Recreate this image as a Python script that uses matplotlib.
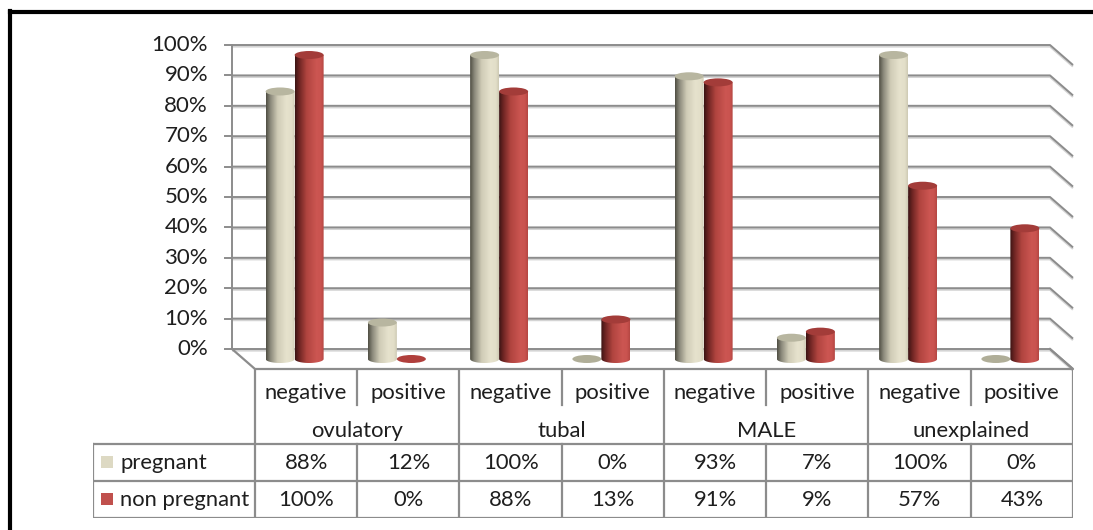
import numpy as np
import matplotlib
matplotlib.use("Agg")
import matplotlib.pyplot as plt
from matplotlib.path import Path
from matplotlib.patches import PathPatch, Ellipse, Rectangle
from matplotlib.colors import LinearSegmentedColormap
from matplotlib.lines import Line2D

# ---- data ----
groups = ["ovulatory", "tubal", "MALE", "unexplained"]
subgroups = ["negative", "positive"]
series_names = ["pregnant", "non pregnant"]
pregnant = [88, 12, 100, 0, 93, 7, 100, 0]
non_pregnant = [100, 0, 88, 13, 91, 9, 57, 43]
yticks = [0, 10, 20, 30, 40, 50, 60, 70, 80, 90, 100]

FONT = "Lato"
TXT = "#1e1e1e"
GRID = "#8c8c8c"

W, H, DPI = 1093, 530, 100
fig = plt.figure(figsize=(W / DPI, H / DPI), dpi=DPI)
fig.patch.set_facecolor("white")

# main plot area (category units on x, fraction on y)
col_px = 102.25            # pixels per category
unit_px = 304.0            # pixels per 100 %
left_px, right_px = 100, 1093
top_px, bot_px = 30, 375
x_origin_px, y_origin_px = 232, 349   # back wall left edge / 0 %

ax = fig.add_axes([left_px / W, 1 - bot_px / H, (right_px - left_px) / W, (bot_px - top_px) / H])
ax.set_axis_off()
xlim = ((left_px - x_origin_px) / col_px - 0.5, (right_px - x_origin_px) / col_px - 0.5)
ylim = ((y_origin_px - bot_px) / unit_px, (y_origin_px - top_px) / unit_px)

n = len(pregnant)
dx = 23 / col_px      # depth offset (front minus back)
dy = -20 / unit_px
x_back0, x_back1 = -0.5, n - 0.5

# back wall gridlines with the perspective side wall on the right
for t in yticks:
    v = t / 100
    xs = [x_back0, x_back1, x_back1 + dx]
    ys = [v, v, v + dy]
    ax.plot(xs, [y - 1.5 / unit_px for y in ys], color="#d4d4d4", lw=1.6, zorder=1,
            solid_capstyle="butt")
    ax.plot(xs, ys, color=GRID, lw=1.4, zorder=2, solid_capstyle="butt")
    # tick
    ax.plot([x_back0 - 7 / col_px, x_back0], [v, v], color=GRID, lw=1.4, zorder=2)
    ax.annotate(f"{t}%", xy=(x_back0, v), xytext=(-24, 0), textcoords="offset pixels",
                ha="right", va="center", fontsize=16, family=FONT, color=TXT)

# vertical axis line
ax.plot([x_back0, x_back0], [0, 1], color=GRID, lw=1.4, zorder=2)
# floor: left diagonal and front edge
ax.plot([x_back0, x_back0 + dx, x_back1 + dx, x_back1],
        [0, dy, dy, 0], color=GRID, lw=1.6, zorder=2)

# cylinder shading
beige_cmap = LinearSegmentedColormap.from_list(
    "beige", [(0.0, "#4e4d42"), (0.15, "#8a887a"), (0.4, "#cfcbb6"),
              (0.7, "#e6e2cd"), (0.9, "#e2dec8"), (1.0, "#cdc9b3")])
red_cmap = LinearSegmentedColormap.from_list(
    "red", [(0.0, "#3a1313"), (0.15, "#6e2523"), (0.4, "#b0443f"),
            (0.75, "#cc5652"), (0.9, "#c9534f"), (1.0, "#b44642")])
top_colors = ["#b8b6a0", "#a33c39"]
flat_colors = ["#b0ae98", "#b03f3c"]

bar_w = 29 / col_px
ell_h = 8 / unit_px
depth = 0.5
base = depth * dy


def cylinder(xc, h, cmap, top_c, flat_c, z):
    x0, x1 = xc - bar_w / 2, xc + bar_w / 2
    if h <= 0:
        ax.add_patch(Ellipse((xc, base), bar_w, ell_h, facecolor=flat_c,
                             edgecolor="none", zorder=z))
        return
    th = np.linspace(np.pi, 2 * np.pi, 60)
    bx = xc + bar_w / 2 * np.cos(th)
    by = base + ell_h / 2 * np.sin(th)
    verts = list(zip(bx, by)) + [(x1, base + h), (x0, base + h), (bx[0], by[0])]
    codes = [Path.MOVETO] + [Path.LINETO] * (len(verts) - 2) + [Path.CLOSEPOLY]
    clip = PathPatch(Path(verts, codes), facecolor="none", edgecolor="none",
                     transform=ax.transData)
    ax.add_patch(clip)
    grad = np.linspace(0, 1, 256)[None, :]
    im = ax.imshow(grad, cmap=cmap, extent=(x0, x1, base - ell_h / 2, base + h),
                   aspect="auto", interpolation="bilinear", zorder=z, origin="lower")
    im.set_clip_path(clip)
    ax.add_patch(Ellipse((xc, base + h), bar_w, ell_h, facecolor=top_c,
                         edgecolor="none", zorder=z + 0.5))


for i in range(n):
    cx = i + depth * dx
    cylinder(cx - bar_w / 2, pregnant[i] / 100, beige_cmap, top_colors[0], flat_colors[0], 5)
    cylinder(cx + bar_w / 2, non_pregnant[i] / 100, red_cmap, top_colors[1], flat_colors[1], 6)

ax.set_xlim(*xlim)
ax.set_ylim(*ylim)

# ---- data table ----
tab_top, tab_bot = 369, 518
tab_left = 93
front_left = x_origin_px + dx * col_px       # left edge of first data column
tab_right = front_left + n * col_px
tax = fig.add_axes([tab_left / W, 1 - tab_bot / H, (tab_right - tab_left) / W,
                    (tab_bot - tab_top) / H])
tax.set_axis_off()
label_w = (front_left - tab_left) / col_px
tax.set_xlim(-label_w, n)
tax.set_ylim(4, 0)

lk = dict(color=GRID, lw=1.6, solid_capstyle="projecting")
for c in range(0, n + 1, 2):
    tax.plot([c, c], [0, 4], **lk)
for c in range(1, n, 2):
    tax.plot([c, c], [0, 0.97], **lk)
    tax.plot([c, c], [2, 4], **lk)
for r in (2, 3, 4):
    tax.plot([-label_w, n], [r, r], **lk)
tax.plot([-label_w, -label_w], [2, 4], **lk)

fs = 15.8
for i in range(n):
    tax.text(i + 0.5, 0.64, subgroups[i % 2], ha="center", va="center",
             fontsize=fs, family=FONT, color=TXT)
for g, name in enumerate(groups):
    tax.text(2 * g + 1, 1.66, name, ha="center", va="center",
             fontsize=fs, family=FONT, color=TXT)
for r, vals in enumerate([pregnant, non_pregnant]):
    for i, v in enumerate(vals):
        tax.text(i + 0.5, 2.53 + r, f"{v}%", ha="center", va="center",
                 fontsize=fs, family=FONT, color=TXT)

key_colors = ["#ddd9c3", "#c0504d"]
key_w = 12 / col_px
key_h = 12 / 37.25
for r, (name, kc) in enumerate(zip(series_names, key_colors)):
    kx = -label_w + 8 / col_px
    tax.add_patch(Rectangle((kx, 2.5 + r - key_h / 2), key_w, key_h,
                            facecolor=kc, edgecolor="none"))
    tax.text(kx + key_w + 7 / col_px, 2.53 + r, name, ha="left", va="center",
             fontsize=fs, family=FONT, color=TXT)

# outer frame
fig.add_artist(Line2D([9.5 / W, 9.5 / W], [0, 1 - 11 / H], color="black", lw=3,
                      transform=fig.transFigure, solid_capstyle="projecting"))
fig.add_artist(Line2D([9.5 / W, 1], [1 - 11.5 / H, 1 - 11.5 / H], color="black", lw=3,
                      transform=fig.transFigure, solid_capstyle="projecting"))

fig.savefig("out.png", dpi=DPI)
